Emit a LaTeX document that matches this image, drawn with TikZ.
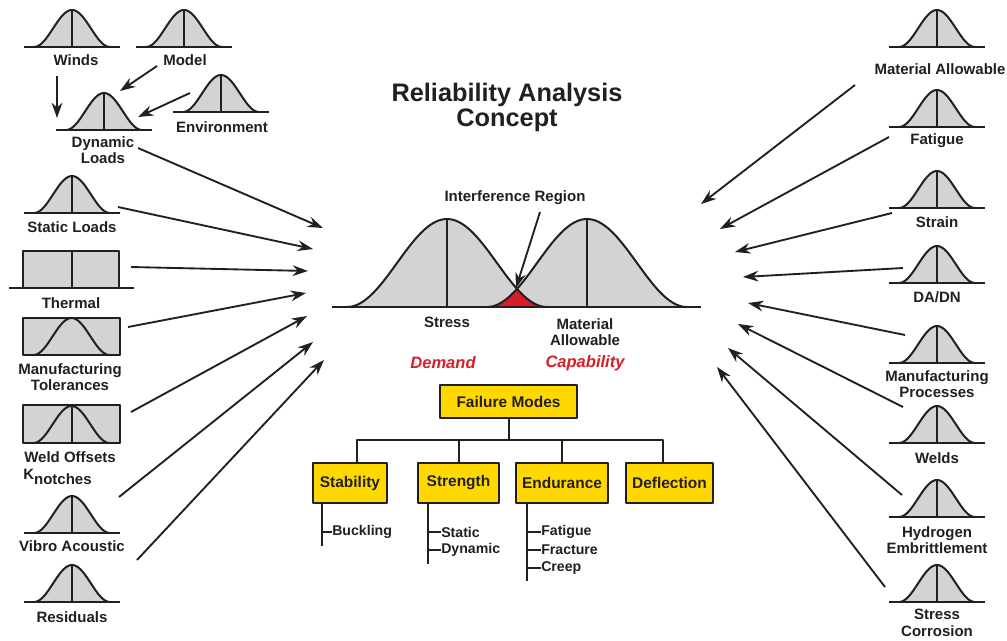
\documentclass[tikz,border=0pt]{standalone}
\usepackage{fontspec}
\setmainfont{Liberation Sans}
\usetikzlibrary{arrows.meta}
\definecolor{bellgray}{HTML}{D3D3D3}
\definecolor{ink}{HTML}{231F20}
\definecolor{fmyellow}{HTML}{FFD800}
\definecolor{demred}{HTML}{D71E28}
\tikzset{
  bell/.pic={
    \fill[bellgray] (-38,0) -- plot[domain=-38:38,samples=40] (\x,{-18.5*(1+cos(4.7368*\x))}) -- cycle;
    \draw[curve] plot[domain=-38:38,samples=40] (\x,{-18.5*(1+cos(4.7368*\x))});
    \draw[curve] (-48,0) -- (48,0);
    \draw[curve] (0,0) -- (0,-37);
  },
  bellcurve/.pic={
    \draw[curve] plot[domain=-38:38,samples=40] (\x,{-18.5*(1+cos(4.7368*\x))});
  }
}
\begin{document}
\begin{tikzpicture}[x=0.75pt,y=-0.75pt,line join=round,
  curve/.style={draw=ink,line width=1.5pt},
  lbl/.style={font=\bfseries\fontsize{11.25}{12.4}\selectfont,text=ink,align=center,inner sep=0pt},
  sub/.style={font=\bfseries\fontsize{10.6}{12}\selectfont,text=ink,inner sep=0pt,anchor=west},
  arr/.style={draw=ink,line width=1.4pt,-{Stealth[length=11.5pt,width=8pt]}},
  fmbox/.style={draw=ink,line width=1.5pt,fill=fmyellow,font=\bfseries\fontsize{11.6}{13}\selectfont,text=ink,minimum height=30pt,inner sep=0pt},
  tree/.style={draw=ink,line width=1.5pt},
  red label/.style={font=\bfseries\itshape\fontsize{12.4}{14}\selectfont,text=demred,inner sep=0pt}
]
\useasboundingbox (0,0) rectangle (1007,640);
\fill[white] (0,0) rectangle (1007,640);

% ---------- title ----------
\node[font=\bfseries\fontsize{19}{18.75}\selectfont,align=center,text=ink,inner sep=0pt] (title) at (507,107) {Reliability Analysis\\Concept};

% ---------- left column ----------
\pic at (72,47) {bell};
\node[lbl] (winds) at (76,60) {Winds};
\pic at (184,47) {bell};
\node[lbl] (model) at (185,60) {Model};
\pic at (104,130) {bell};
\node[lbl] (dyn) at (103,150) {Dynamic\\Loads};
\pic at (221,112) {bell};
\node[lbl] (env) at (222,127) {Environment};

\pic at (72,213) {bell};
\node[lbl] (static) at (72,227) {Static Loads};

\fill[bellgray] (23,251) rectangle (119,288);
\draw[curve] (23,288) -- (23,251) -- (119,251) -- (119,288);
\draw[curve] (9,288) -- (134,288);
\draw[curve] (72,251) -- (72,288);
\node[lbl] (thermal) at (71,303) {Thermal};

\draw[curve,fill=bellgray] (23,318) rectangle (120,355);
\pic at (71.5,355) {bellcurve};
\node[lbl] (mfgtol) at (70,377) {Manufacturing\\Tolerances};

\draw[curve,fill=bellgray] (23,405) rectangle (120,443);
\pic at (71.5,443) {bellcurve};
\draw[curve] (71.5,405) -- (71.5,443);
\node[lbl] (weld) at (70,457) {Weld Offsets};
\node[lbl,anchor=west] (knotch) at (23,477) {K\raisebox{-3.8pt}{notches}};

\pic at (72,533) {bell};
\node[lbl] (vibro) at (72,546) {Vibro Acoustic};
\pic at (72,602) {bell};
\node[lbl] (resid) at (72,617) {Residuals};

% ---------- right column ----------
\pic at (937,47) {bell};
\node[lbl] (matall) at (940,69) {Material Allowable};
\pic at (937,127) {bell};
\node[lbl] (fatigue) at (937,141) {Fatigue};
\pic at (937,208) {bell};
\node[lbl] (strain) at (937,222) {Strain};
\pic at (937,283) {bell};
\node[lbl] (dadn) at (937,297) {DA/DN};
\pic at (937,363) {bell};
\node[lbl] (mfgproc) at (937,384) {Manufacturing\\Processes};
\pic at (937,443) {bell};
\node[lbl] (welds) at (937,458) {Welds};
\pic at (937,517) {bell};
\node[lbl] (hydro) at (937,540) {Hydrogen\\Embrittlement};
\pic at (937,602) {bell};
\node[lbl] (stcorr) at (937,623) {Stress\\Corrosion};

% ---------- central interference diagram ----------
\fill[bellgray] (347,307) -- plot[domain=347:547,samples=80] (\x,{307-44*(1+cos(1.8*(\x-447)))}) -- cycle;
\fill[bellgray] (487,307) -- plot[domain=487:687,samples=80] (\x,{307-44*(1+cos(1.8*(\x-587)))}) -- cycle;
\fill[demred] (487,307) -- plot[domain=487:517,samples=20] (\x,{307-44*(1+cos(1.8*(\x-587)))})
   -- plot[domain=517:547,samples=20] (\x,{307-44*(1+cos(1.8*(\x-447)))}) -- cycle;
\draw[curve] plot[domain=347:547,samples=80] (\x,{307-44*(1+cos(1.8*(\x-447)))});
\draw[curve] plot[domain=487:687,samples=80] (\x,{307-44*(1+cos(1.8*(\x-587)))});
\draw[curve] (447,219) -- (447,307);
\draw[curve] (587,219) -- (587,307);
\draw[curve] (332,307) -- (701,307);

\node[lbl] (interf) at (515,198) {Interference Region};
\coordinate (t-int) at (540,212);
\coordinate (h-int) at (516,288);
\draw[arr] (t-int) -- (h-int);

\node[lbl] (stress) at (447,322) {Stress};
\node[lbl] (matlbl) at (585,332) {Material\\Allowable};
\node[red label] (demand) at (443,363) {Demand};
\node[red label] (capab) at (585,363) {Capability};

% ---------- failure modes tree ----------
\node[fmbox,minimum width=102.75pt,minimum height=24.75pt] (fm) at (508.5,401.5) {Failure Modes};
\node[fmbox,minimum width=55.5pt] (stab) at (350,483) {Stability};
\node[fmbox,minimum width=60.75pt] (stren) at (458.5,483) {Strength};
\node[fmbox,minimum width=69pt] (endu) at (562,483) {Endurance};
\node[fmbox,minimum width=65.25pt] (defl) at (669.5,483) {Deflection};

\coordinate (bus) at (507,440);
\coordinate (stabtop) at ([xshift=5.25pt]stab.north);
\coordinate (defltop) at ([xshift=-4.9pt]defl.north);
\draw[tree] (fm.south) -- (fm.south |- bus);
\draw[tree] (stabtop) -- (stabtop |- bus) -- (defltop |- bus) -- (defltop);
\draw[tree] (stren.north) -- (stren.north |- bus);
\draw[tree] (endu.north) -- (endu.north |- bus);

\node[sub] (buck) at (332,532) {Buckling};
\node[sub] (statsub) at (441,532) {Static};
\node[sub] (dynsub) at (441,550) {Dynamic};
\node[sub] (fatsub) at (541,532) {Fatigue};
\node[sub] (fracsub) at (541,550) {Fracture};
\node[sub] (creepsub) at (541,568) {Creep};

\draw[tree] ([xshift=7.5pt]stab.south west) -- ++(0,42);
\draw[tree] (buck.west) -- ++(-9,0);
\draw[tree] ([xshift=8.25pt]stren.south west) -- ++(0,60);
\draw[tree] (statsub.west) -- ++(-12,0);
\draw[tree] (dynsub.west) -- ++(-12,0);
\draw[tree] ([xshift=9pt]endu.south west) -- ++(0,77);
\draw[tree] (fatsub.west) -- ++(-13,0);
\draw[tree] (fracsub.west) -- ++(-13,0);
\draw[tree] (creepsub.west) -- ++(-13,0);

% ---------- arrows, left ----------
\coordinate (t-winds) at (57,76);   \coordinate (h-winds) at (57,118);
\coordinate (t-model) at (157,66);  \coordinate (h-model) at (120,91);
\coordinate (t-env) at (190,93);    \coordinate (h-env) at (138,117);
\coordinate (t-dyn) at (138,148);   \coordinate (h-dyn) at (323,228);
\coordinate (t-static) at (118,207);\coordinate (h-static) at (313,249);
\coordinate (t-therm) at (131,267); \coordinate (h-therm) at (308,271);
\coordinate (t-mfgtol) at (128,327);\coordinate (h-mfgtol) at (306,293);
\coordinate (t-weld) at (131,412);  \coordinate (h-weld) at (307,316);
\coordinate (t-vibro) at (119,497); \coordinate (h-vibro) at (313,342);
\coordinate (t-resid) at (137,560); \coordinate (h-resid) at (324,360);
\foreach \n in {winds,model,env,dyn,static,therm,mfgtol,weld,vibro,resid}
  \draw[arr] (t-\n) -- (h-\n);

% ---------- arrows, right ----------
\coordinate (t-mat) at (855,85);    \coordinate (h-mat) at (701,204);
\coordinate (t-fat) at (889,137);   \coordinate (h-fat) at (720,229);
\coordinate (t-str) at (892,213);   \coordinate (h-str) at (735,252);
\coordinate (t-dadn) at (903,268);  \coordinate (h-dadn) at (743,277);
\coordinate (t-proc) at (905,335);  \coordinate (h-proc) at (748,303);
\coordinate (t-welds) at (903,407); \coordinate (h-welds) at (738,324);
\coordinate (t-hyd) at (902,495);   \coordinate (h-hyd) at (728,348);
\coordinate (t-sc) at (885,587);    \coordinate (h-sc) at (717,367);
\foreach \n in {mat,fat,str,dadn,proc,welds,hyd,sc}
  \draw[arr] (t-\n) -- (h-\n);
\end{tikzpicture}
\end{document}
